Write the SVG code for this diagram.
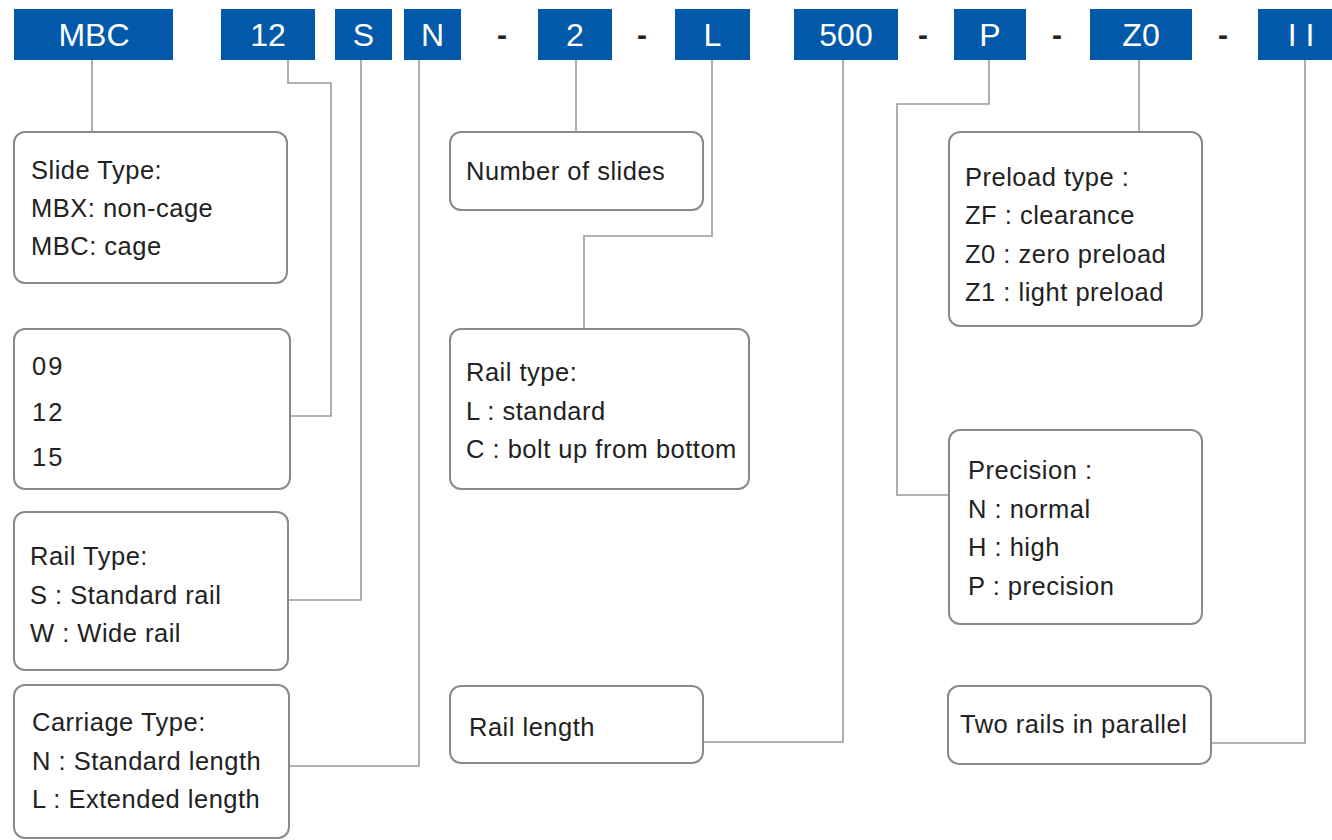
<svg xmlns="http://www.w3.org/2000/svg" width="1332" height="840" viewBox="0 0 1332 840">
<style>
.tag{fill:#0359a9}
.tt{fill:#fff;font-family:"Liberation Sans",Arial,sans-serif;font-size:32px;text-anchor:middle}
.dash{fill:#222;font-family:"Liberation Sans",Arial,sans-serif;font-size:30px;font-weight:bold;text-anchor:middle}
.box{fill:#fff;stroke:#8a8a8a;stroke-width:2}
.t{fill:#222;font-family:"Liberation Sans",Arial,sans-serif;font-size:25.5px;letter-spacing:0.5px}
.num{letter-spacing:2px}
.con{fill:none;stroke:#9a9a9a;stroke-width:1.6}
</style>
<rect width="1332" height="840" fill="#fff"/>
<g id="code">
<g id="tag-mbc"><rect class="tag" x="14" y="9" width="159" height="51"/><text class="tt" x="94" y="46">MBC</text></g>
<g id="tag-12"><rect class="tag" x="221" y="9" width="94" height="51"/><text class="tt" x="268" y="46">12</text></g>
<g id="tag-s"><rect class="tag" x="335" y="9" width="57" height="51"/><text class="tt" x="363.5" y="46">S</text></g>
<g id="tag-n"><rect class="tag" x="404" y="9" width="57" height="51"/><text class="tt" x="432.5" y="46">N</text></g>
<text class="dash" x="502" y="45">-</text>
<g id="tag-2"><rect class="tag" x="538" y="9" width="74" height="51"/><text class="tt" x="575" y="46">2</text></g>
<text class="dash" x="642" y="45">-</text>
<g id="tag-l"><rect class="tag" x="675" y="9" width="75" height="51"/><text class="tt" x="712.5" y="46">L</text></g>
<g id="tag-500"><rect class="tag" x="794" y="9" width="104" height="51"/><text class="tt" x="846" y="46">500</text></g>
<text class="dash" x="923" y="45">-</text>
<g id="tag-p"><rect class="tag" x="954" y="9" width="72" height="51"/><text class="tt" x="990" y="46">P</text></g>
<text class="dash" x="1057" y="45">-</text>
<g id="tag-z0"><rect class="tag" x="1090" y="9" width="102" height="51"/><text class="tt" x="1141" y="46">Z0</text></g>
<text class="dash" x="1223" y="45">-</text>
<g id="tag-ii"><rect class="tag" x="1258" y="9" width="80" height="51"/><text class="tt" x="1301" y="46">I I</text></g>
</g>
<g id="connectors">
<path class="con" d="M92 60V132"/>
<path class="con" d="M288 60V83H331V416H290"/>
<path class="con" d="M361 60V600H288"/>
<path class="con" d="M419 60V766H289"/>
<path class="con" d="M576 60V132"/>
<path class="con" d="M712 60V236H584V329"/>
<path class="con" d="M843 60V742H703"/>
<path class="con" d="M989 60V104H897V495H949"/>
<path class="con" d="M1139 60V132"/>
<path class="con" d="M1305 60V743H1211"/>
</g>
<g id="slide-type"><rect class="box" x="14" y="132" width="273" height="151" rx="11"/>
<text class="t" x="31" y="179">Slide Type:</text><text class="t" x="31" y="217">MBX: non-cage</text><text class="t" x="31" y="255">MBC: cage</text></g>
<g id="size"><rect class="box" x="14" y="329" width="276" height="160" rx="11"/>
<text class="t num" x="32" y="375">09</text><text class="t num" x="32" y="421">12</text><text class="t num" x="32" y="466">15</text></g>
<g id="rail-type"><rect class="box" x="14" y="512" width="274" height="158" rx="11"/>
<text class="t" x="30" y="565">Rail Type:</text><text class="t" x="30" y="604">S : Standard rail</text><text class="t" x="30" y="642">W : Wide rail</text></g>
<g id="carriage-type"><rect class="box" x="14" y="685" width="275" height="153" rx="11"/>
<text class="t" x="32" y="731">Carriage Type:</text><text class="t" x="32" y="770">N : Standard length</text><text class="t" x="32" y="808">L : Extended length</text></g>
<g id="slides"><rect class="box" x="450" y="132" width="253" height="78" rx="11"/>
<text class="t" x="466" y="180">Number of slides</text></g>
<g id="rail-type-2"><rect class="box" x="450" y="329" width="299" height="160" rx="11"/>
<text class="t" x="466" y="381">Rail type:</text><text class="t" x="466" y="420">L : standard</text><text class="t" x="466" y="458">C : bolt up from bottom</text></g>
<g id="rail-length"><rect class="box" x="450" y="686" width="253" height="77" rx="11"/>
<text class="t" x="469" y="736">Rail length</text></g>
<g id="preload"><rect class="box" x="949" y="132" width="253" height="194" rx="11"/>
<text class="t" x="965" y="186">Preload type :</text><text class="t" x="965" y="224">ZF : clearance</text><text class="t" x="965" y="263">Z0 : zero preload</text><text class="t" x="965" y="301">Z1 : light preload</text></g>
<g id="precision"><rect class="box" x="949" y="430" width="253" height="194" rx="11"/>
<text class="t" x="968" y="479">Precision :</text><text class="t" x="968" y="518">N : normal</text><text class="t" x="968" y="556">H : high</text><text class="t" x="968" y="595">P : precision</text></g>
<g id="parallel"><rect class="box" x="948" y="686" width="263" height="78" rx="11"/>
<text class="t" x="960" y="733">Two rails in parallel</text></g>
</svg>
